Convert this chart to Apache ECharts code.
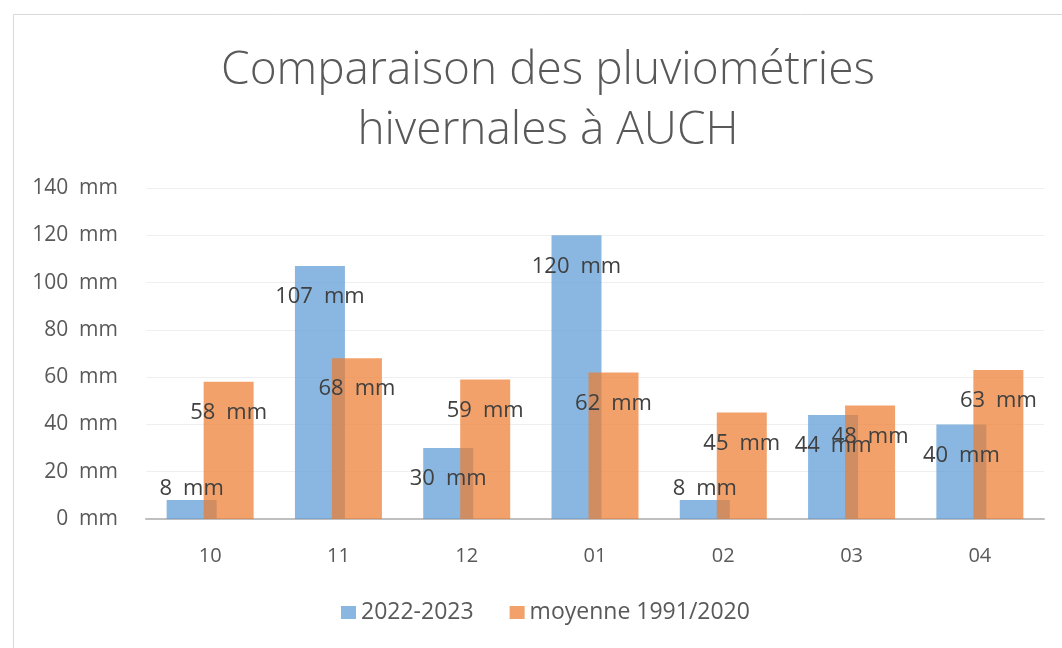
<!DOCTYPE html>
<html>
<head>
<meta charset="utf-8">
<script src="https://cdn.jsdelivr.net/npm/echarts@6/dist/echarts.min.js"></script>
<style>html,body{margin:0;padding:0;background:#fff}#c{width:1062px;height:648px}</style>
</head>
<body>
<div id="c"></div>
<script>
const categories = ['10', '11', '12', '01', '02', '03', '04'];
const serie2022 = [8, 107, 30, 120, 8, 44, 40];
const serieMoyenne = [58, 68, 59, 62, 45, 48, 63];
const seriesNames = ['2022-2023', 'moyenne 1991/2020'];
const yTicks = { min: 0, max: 140, interval: 20 };

const FONT = '"Open Sans", "DejaVu Sans", sans-serif';
function mkData(arr) {
  return arr.map(v => v < 15
    ? { value: v, label: { position: 'top', distance: 0 } }
    : v);
}
const labelStyle = {
  show: true, position: 'insideTop', distance: 20,
  formatter: p => p.value + '\u2002mm',
  color: '#404040', fontSize: 22, fontFamily: FONT
};
const chart = echarts.init(document.getElementById('c'), null, { renderer: 'canvas' });
chart.setOption({
  backgroundColor: '#fff',
  animation: false,
  graphic: [{
    type: 'rect', shape: { x: 13.5, y: 14.5, width: 1100, height: 700 },
    style: { fill: 'none', stroke: '#d9d9d9', lineWidth: 1 }, silent: true
  }],
  title: {
    text: 'Comparaison des pluviométries\nhivernales à AUCH',
    left: 543, top: 36, textAlign: 'center',
    textStyle: { fontFamily: FONT, fontWeight: 300, fontSize: 46, lineHeight: 60, color: '#595959' }
  },
  legend: {
    data: seriesNames, bottom: 19, left: 336,
    icon: 'rect', itemWidth: 15, itemHeight: 13, itemGap: 36,
    textStyle: { fontFamily: FONT, fontSize: 23, color: '#595959' }
  },
  grid: { left: 146, right: 18, top: 188, bottom: 129, containLabel: false },
  xAxis: {
    type: 'category', data: categories,
    axisLine: { lineStyle: { color: '#bfbfbf', width: 2 } },
    axisTick: { show: false },
    axisLabel: { margin: 27, fontFamily: FONT, fontSize: 20, color: '#595959' }
  },
  yAxis: {
    type: 'value', min: yTicks.min, max: yTicks.max, interval: yTicks.interval,
    axisLine: { show: false }, axisTick: { show: false },
    splitLine: { lineStyle: { color: '#efefef', width: 1 } },
    axisLabel: { margin: 28, formatter: v => v + '  mm', fontFamily: FONT, fontSize: 21, color: '#595959' }
  },
  series: [
    {
      name: seriesNames[0], type: 'bar', data: mkData(serie2022),
      barWidth: 50, barGap: '-26%', barCategoryGap: '32%',
      itemStyle: { color: 'rgba(91,155,213,0.72)' },
      label: labelStyle
    },
    {
      name: seriesNames[1], type: 'bar', data: mkData(serieMoyenne),
      barWidth: 50,
      itemStyle: { color: 'rgba(237,125,49,0.72)' },
      label: labelStyle
    }
  ]
});
</script>
</body>
</html>
